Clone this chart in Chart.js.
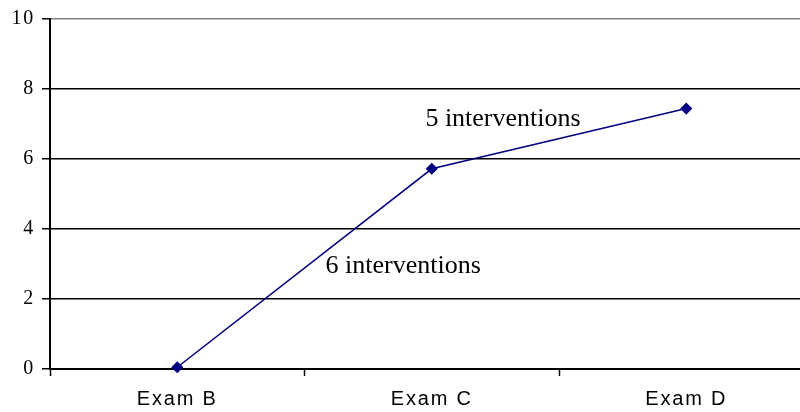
<!DOCTYPE html>
<html>
<head>
<meta charset="utf-8">
<script src="https://cdn.jsdelivr.net/npm/chart.js@4/dist/chart.umd.min.js"></script>
<style>
  html, body { margin: 0; padding: 0; background: #fff; overflow: hidden; }
  #wrap { width: 800px; height: 412px; overflow: hidden; }
  #chart { display: block; }
</style>
</head>
<body>
<div id="wrap"><canvas id="chart" width="820" height="412"></canvas></div>
<script>
const categories = ['Exam B', 'Exam C', 'Exam D'];
const scores = [0.05, 5.72, 7.44];
const yTicks = [0, 2, 4, 6, 8, 10];

// text notes, placed in data space (category index, value at baseline)
const noteTexts = ['5 interventions', '6 interventions'];
const noteX = [1.28, 0.888];
const noteY = [6.95, 2.74];

const spacingPlugin = {
  id: 'spacing',
  beforeDraw(chart) { chart.ctx.letterSpacing = '1.8px'; }
};

const notesPlugin = {
  id: 'notes',
  afterDatasetsDraw(chart) {
    const ctx = chart.ctx;
    const xs = chart.scales.x;
    const ys = chart.scales.y;
    const step = xs.getPixelForValue(1) - xs.getPixelForValue(0);
    ctx.save();
    ctx.letterSpacing = '0px';
    ctx.fillStyle = '#000';
    ctx.font = '26px "Liberation Serif", "Times New Roman", serif';
    ctx.textAlign = 'center';
    ctx.textBaseline = 'alphabetic';
    noteTexts.forEach((t, i) => {
      const px = xs.getPixelForValue(0) + noteX[i] * step;
      const py = ys.getPixelForValue(noteY[i]);
      ctx.fillText(t, px, py);
    });
    ctx.restore();
  }
};

new Chart(document.getElementById('chart'), {
  type: 'line',
  data: {
    labels: categories,
    datasets: [{
      data: scores,
      borderColor: '#000080',
      backgroundColor: '#000080',
      borderWidth: 1.5,
      pointStyle: 'rectRot',
      pointRadius: 5,
      pointHoverRadius: 5,
      tension: 0,
      clip: false
    }]
  },
  options: {
    responsive: false,
    animation: false,
    events: [],
    layout: { padding: { top: 18, left: 0, right: 0, bottom: 0 } },
    plugins: {
      legend: { display: false },
      tooltip: { enabled: false }
    },
    scales: {
      x: {
        type: 'category',
        offset: true,
        grid: {
          offset: true,
          drawOnChartArea: false,
          drawTicks: true,
          tickLength: 7,
          tickColor: '#000',
          tickWidth: 1.5
        },
        border: { color: '#000', width: 2 },
        ticks: {
          color: '#000',
          padding: 11,
          font: { family: '"Liberation Sans", Arial, sans-serif', size: 20 }
        },
        afterFit(scale) { scale.height = 43; }
      },
      y: {
        min: 0,
        max: 10,
        afterBuildTicks(scale) { scale.ticks = yTicks.map(v => ({ value: v })); },
        grid: {
          color: ctx => (ctx.tick && ctx.tick.value === 10 ? '#808080' : '#000'),
          lineWidth: 1.5,
          tickLength: 8,
          tickColor: '#000'
        },
        border: { color: '#000', width: 2 },
        ticks: {
          color: '#000',
          padding: 7,
          font: { family: '"Liberation Serif", "Times New Roman", serif', size: 20 }
        },
        afterFit(scale) { scale.width = 50; }
      }
    }
  },
  plugins: [spacingPlugin, notesPlugin]
});
</script>
</body>
</html>
